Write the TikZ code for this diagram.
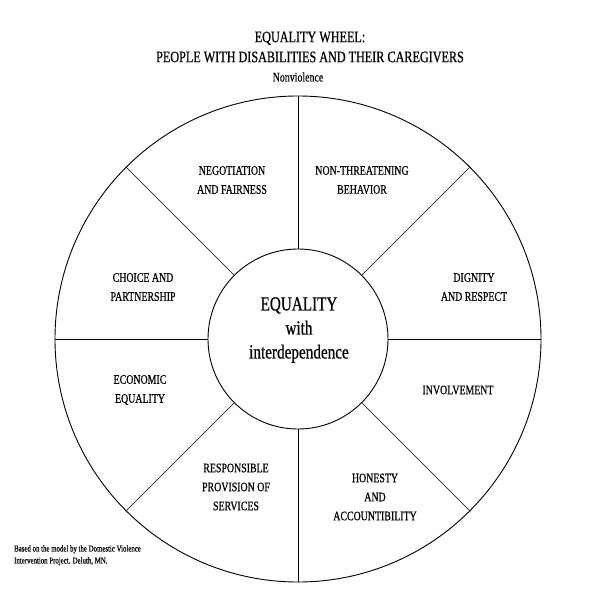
\documentclass[tikz,border=0pt]{standalone}
\usepackage{fontspec}
\setmainfont[FakeStretch=0.76,FakeBold=0.6]{Liberation Serif}
\begin{document}
\begin{tikzpicture}[x=1pt,y=-1pt,inner sep=0pt]
       \tikzset{every node/.style={align=center},
                part/.style={font=\fontsize{13}{19}\selectfont},
                ring/.style={circle,draw,line width=0.9pt}}
       \useasboundingbox (0,0) rectangle (600,600);

       \node[ring, minimum size=486pt] (rim) at (298,339) {};
       \node[ring, minimum size=180pt] (hub) at (298,339) {};
       \foreach \a in {0,45,...,315}
         \draw[line width=0.6pt] (hub.\a) -- (rim.\a);

       \node[font=\fontsize{16}{20}\selectfont] (title) at (310,47) {EQUALITY WHEEL:\\PEOPLE WITH DISABILITIES AND THEIR CAREGIVERS};
       \node[font=\fontsize{13}{15}\selectfont] (nonv) at (298,77) {Nonviolence};

       \node[font=\fontsize{20}{24}\selectfont] (eq) at (299,330) {EQUALITY\\with\\interdependence};

       \node[part] (negot) at (232,180) {NEGOTIATION\\AND FAIRNESS};
       \node[part] (nonthr) at (362,180) {NON-THREATENING\\BEHAVIOR};
       \node[part] (dign) at (474,287) {DIGNITY\\AND RESPECT};
       \node[part] (invol) at (458,390) {INVOLVEMENT};
       \node[part] (honest) at (375,497) {HONESTY\\AND\\ACCOUNTIBILITY};
       \node[part] (resp) at (236,487) {RESPONSIBLE\\PROVISION OF\\SERVICES};
       \node[part] (econ) at (140,390) {ECONOMIC\\EQUALITY};
       \node[part] (choice) at (143,287) {CHOICE AND\\PARTNERSHIP};

       \node[align=left, anchor=north west, font=\fontsize{9}{12}\selectfont] (note) at (14,545) {Based on the model by the Domestic Violence\\Intervention Project. Deluth, MN.};
\end{tikzpicture}
\end{document}
